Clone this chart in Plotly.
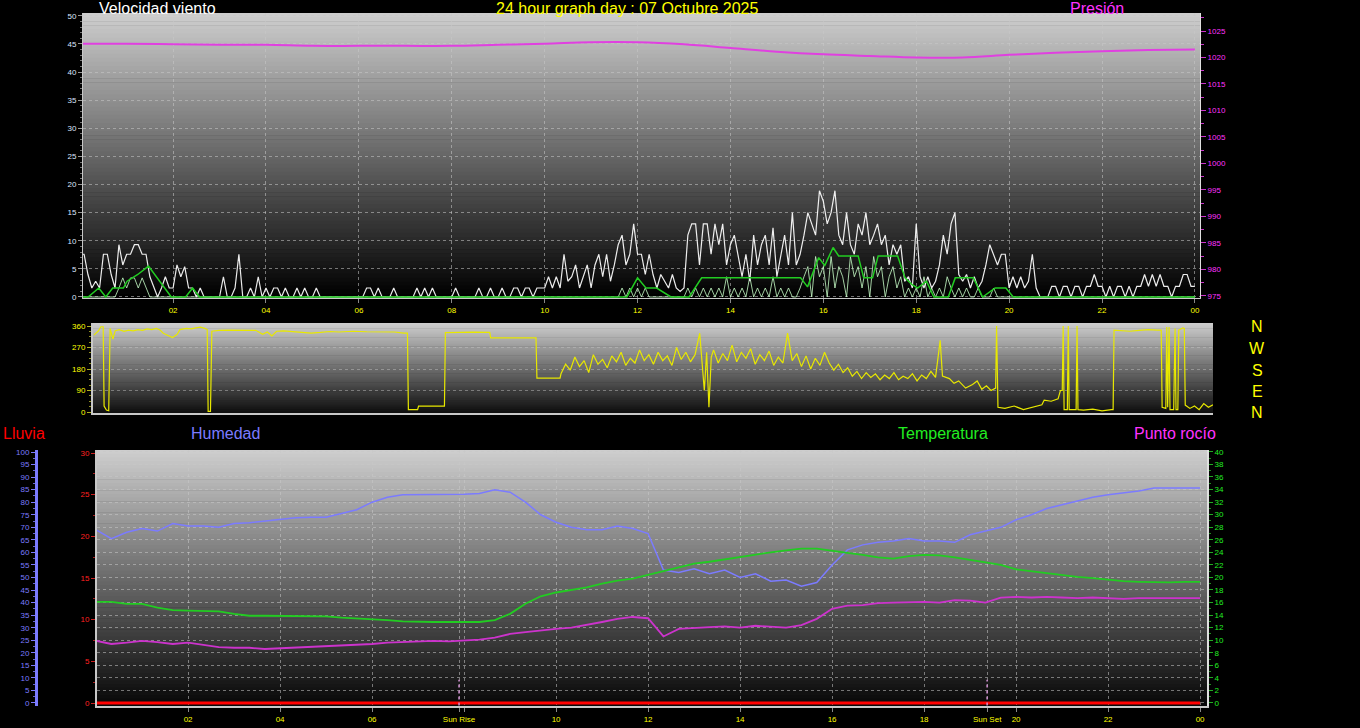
import plotly.graph_objects as go

W, H = 1360, 728

# ---------------- DATA ----------------
HOUR_TICKS = [2, 4, 6, 8, 10, 12, 14, 16, 18, 20, 22, 24]
HOUR_LABELS = ["02", "04", "06", "08", "10", "12", "14", "16", "18", "20", "22", "00"]
SUNRISE_H = 7.89
SUNSET_H = 19.37

WIND_STEP_H = 5 / 60  # 5-minute samples from 00:00
# gust (white)
WIND_GUST = [
    7.6, 7.6, 4.0, 1.6, 2.8, 1.6, 7.6, 7.6, 4.0, 1.6, 9.3, 5.7,
    7.6, 7.6, 9.3, 9.3, 7.6, 7.6, 3.6, 1.6, 0, 1.6, 3.6, 1.6,
    1.6, 5.7, 3.6, 5.4, 1.6, 1.6, 0, 1.6, 0, 0, 0, 0,
    0, 3.6, 0, 0, 1.6, 7.6, 0, 0, 1.6, 0, 3.6, 0,
    1.6, 0, 1.6, 1.6, 0, 1.6, 0, 0, 1.6, 0, 1.6, 0,
    0, 1.6, 0, 0, 0, 0, 0, 0, 0, 0, 0, 0,
    0, 0, 1.6, 1.6, 0, 1.6, 0, 0, 0, 1.6, 0, 0,
    0, 0, 0, 1.6, 0, 1.6, 0, 1.6, 0, 0, 0, 0,
    0, 1.6, 0, 0, 0, 0, 0, 1.6, 0, 0, 1.6, 0,
    0, 1.6, 0, 0, 1.6, 1.6, 0, 1.6, 1.6, 0, 1.6, 1.6,
    1.6, 3.6, 1.6, 3.6, 1.6, 7.6, 2.8, 3.6, 5.7, 1.6, 3.6, 5.7,
    1.6, 5.7, 7.6, 3.6, 7.6, 2.8, 5.7, 9.3, 11.0, 5.7, 7.6, 13.0,
    7.6, 7.6, 4.0, 7.6, 4.0, 1.6, 4.0, 2.8, 1.6, 4.0, 1.6, 1.0,
    1.6, 11.0, 13.0, 13.0, 5.7, 13.0, 13.0, 7.6, 13.0, 9.3, 13.0, 5.7,
    9.3, 11.0, 7.6, 3.6, 7.6, 2.8, 11.0, 5.7, 9.3, 11.0, 5.7, 12.3,
    3.6, 7.6, 11.0, 5.7, 15.0, 5.7, 7.6, 11.0, 15.0, 13.0, 11.0, 18.9,
    17.0, 13.0, 15.0, 18.9, 11.0, 9.3, 15.0, 9.3, 7.6, 13.0, 11.0, 15.0,
    9.3, 11.0, 13.0, 9.3, 11.0, 5.7, 9.3, 7.6, 9.3, 2.8, 3.6, 1.6,
    13.0, 3.6, 1.6, 3.6, 1.6, 2.8, 5.7, 11.0, 7.6, 13.0, 15.0, 4.0,
    2.8, 4.0, 1.6, 3.6, 1.6, 2.8, 5.7, 9.3, 7.6, 5.7, 7.6, 7.6,
    1.6, 3.6, 1.6, 3.6, 1.6, 2.8, 7.6, 1.6, 0, 0, 0, 1.9,
    1.9, 0, 1.9, 1.9, 0, 1.9, 1.9, 0, 1.9, 1.9, 4.0, 1.9,
    1.9, 0, 1.9, 0, 1.9, 1.9, 0, 1.9, 0, 1.9, 1.9, 4.0,
    1.9, 4.0, 1.9, 4.0, 1.9, 1.9, 0, 1.9, 1.9, 4.0, 4.0, 1.9,
    1.9,
]
# wind speed (pale green)
WIND_SPD = [
    0, 0, 0, 0, 0, 0, 0, 0, 0, 0, 1.6, 3.4,
    1.6, 3.4, 3.4, 1.6, 3.4, 1.6, 0, 0, 0, 0, 0, 0,
    0, 0, 0, 0, 0, 0, 0, 0, 0, 0, 0, 0,
    0, 0, 0, 0, 0, 0, 0, 0, 0, 0, 0, 0,
    0, 0, 0, 0, 0, 0, 0, 0, 0, 0, 0, 0,
    0, 0, 0, 0, 0, 0, 0, 0, 0, 0, 0, 0,
    0, 0, 0, 0, 0, 0, 0, 0, 0, 0, 0, 0,
    0, 0, 0, 0, 0, 0, 0, 0, 0, 0, 0, 0,
    0, 0, 0, 0, 0, 0, 0, 0, 0, 0, 0, 0,
    0, 0, 0, 0, 0, 0, 0, 0, 0, 0, 0, 0,
    0, 0, 0, 0, 0, 0, 0, 0, 0, 0, 0, 0,
    0, 0, 0, 0, 0, 0, 0, 0, 1.6, 0, 1.6, 0,
    1.6, 0, 1.6, 0, 0, 0, 0, 0, 0, 0, 0, 0,
    0, 1.6, 0, 1.6, 0, 1.6, 0, 1.6, 0, 1.6, 0, 3.6,
    0, 1.6, 0, 1.6, 0, 3.6, 0, 1.6, 0, 1.6, 0, 3.6,
    0, 1.6, 0, 1.6, 0, 0, 1.6, 3.6, 5.4, 0, 7.2, 3.6,
    5.4, 0, 7.2, 1.6, 5.4, 3.6, 0, 7.2, 3.6, 5.4, 1.6, 5.4,
    0, 7.2, 3.6, 5.4, 0, 3.6, 5.4, 1.6, 3.6, 0, 1.6, 0,
    1.6, 0, 3.6, 0, 1.6, 0, 1.6, 0, 3.6, 1.6, 0, 1.6,
    0, 1.6, 0, 0, 1.6, 0, 0, 0, 1.6, 0, 0, 0,
    0, 0, 0, 0, 0, 0, 0, 0, 0, 0, 0, 0,
    0, 0, 0, 0, 0, 0, 0, 0, 0, 0, 0, 0,
    0, 0, 0, 0, 0, 0, 0, 0, 0, 0, 0, 0,
    0, 0, 0, 0, 0, 0, 0, 0, 0, 0, 0, 0,
    0,
]
# average wind (green)
AVG_T = [0, 0.17, 0.4, 0.55, 0.7, 0.93, 1.01, 1.24, 1.47, 1.77, 1.96, 2.27, 2.42, 2.57,
         11.77, 12.0, 12.18, 12.41, 12.72, 13.11, 13.38, 15.51, 15.66, 15.9, 16.03, 16.21,
         16.33, 16.75, 16.87, 17.06, 17.18, 17.6, 17.76, 17.91, 18.03, 18.22, 18.38, 18.69,
         18.84, 19.23, 19.43, 19.7, 19.93, 20.09, 24.0]
AVG_V = [0, 0, 1.6, 0, 1.6, 1.6, 2.8, 4.0, 5.5, 2.2, 0, 0, 1.6, 0,
         0, 3.4, 1.6, 1.6, 0, 0, 3.4, 3.4, 1.8, 7.0, 5.6, 8.8,
         7.3, 7.3, 3.4, 3.4, 7.3, 7.3, 3.4, 2.2, 1.6, 2.8, 0, 0,
         3.4, 3.4, 0, 1.6, 1.6, 0, 0]
# pressure (hPa), hourly
PRES_T = [0, 1, 2, 3, 4, 5, 6, 7, 8, 9, 10, 11, 12, 13, 14, 15, 16, 17, 18, 19, 20, 21, 22, 23, 24]
PRES_V = [1022.6, 1022.6, 1022.5, 1022.4, 1022.4, 1022.2, 1022.2, 1022.2, 1022.2, 1022.4,
          1022.6, 1022.9, 1022.9, 1022.5, 1021.8, 1021.1, 1020.6, 1020.3, 1020.0, 1020.0,
          1020.5, 1020.9, 1021.2, 1021.4, 1021.5]

# wind direction (degrees)
DIR_T = [-0.1, 0.0, 0.05, 0.1, 0.12, 0.17, 0.22, 0.25, 0.31, 0.36, 0.45, 0.55, 0.65, 0.75, 0.85,
         0.95, 1.05, 1.15, 1.25, 1.33, 1.4, 1.5, 1.6, 1.7, 1.76, 1.9, 2.0, 2.1, 2.2, 2.3, 2.35,
         2.37, 2.42, 2.45, 2.6, 2.8, 3.0, 3.2, 3.4, 3.55, 3.65, 3.75, 3.85, 4.0, 4.2, 4.36, 4.6,
         4.8, 5.0, 5.2, 5.5, 5.8, 6.1, 6.4, 6.6, 6.68, 6.7, 6.9, 6.92, 7.2, 7.48, 7.5, 7.8, 8.1,
         8.46, 8.48, 9.0, 9.46, 9.48, 9.98,
         10.0, 10.1, 10.2, 10.3, 10.4, 10.5, 10.6, 10.7, 10.8, 10.9, 11.0, 11.1, 11.2, 11.3,
         11.4, 11.5, 11.6, 11.7, 11.8, 11.9, 12.0, 12.1, 12.2, 12.3, 12.4, 12.5, 12.6, 12.7,
         12.8, 12.9, 13.0, 13.05, 13.1, 13.15, 13.2, 13.25, 13.3, 13.4, 13.5, 13.6, 13.7, 13.8,
         13.9, 14.0, 14.1, 14.2, 14.3, 14.4, 14.5, 14.6, 14.7, 14.8, 14.9, 15.0, 15.1, 15.2,
         15.3, 15.4, 15.5, 15.6, 15.7, 15.8, 15.9, 16.0, 16.1, 16.2, 16.3, 16.4, 16.5, 16.6,
         16.7, 16.8, 16.9, 17.0, 17.1, 17.2, 17.3, 17.4, 17.5, 17.6, 17.7, 17.8, 17.9, 18.0,
         18.1, 18.2, 18.25, 18.4, 18.5, 18.6, 18.75, 18.9, 19.0, 19.1, 19.2, 19.3, 19.4, 19.42,
         19.45, 19.6, 19.8, 20.0, 20.2, 20.4, 20.45, 20.6, 20.75, 20.8, 20.84, 20.86, 20.88,
         20.95, 20.97, 20.99, 21.14, 21.16, 21.18, 21.3, 21.5, 21.7, 21.9, 21.94, 21.96, 22.1,
         22.3, 22.5, 22.7, 22.9, 22.98, 23.0, 23.08, 23.1, 23.12, 23.15, 23.17, 23.25, 23.28,
         23.3, 23.34, 23.36, 23.45, 23.48, 23.5, 23.6, 23.7, 23.8, 23.9, 24.0, 24.1]
DIR_V = [322, 340, 357, 357, 25, 8, 5, 350, 305, 340, 345, 338, 343, 340, 345,
         342, 348, 345, 350, 343, 330, 320, 312, 325, 345, 350, 348, 352, 355, 350, 345,
         3, 3, 338, 342, 343, 343, 344, 342, 325, 335, 318, 338, 340, 337, 333, 330,
         333, 337, 335, 338, 336, 337, 335, 330, 330, 10, 10, 25, 25, 25, 332, 334, 334,
         333, 310, 310, 310, 142, 142,
         160, 200, 175, 230, 190, 215, 165, 240, 200, 220, 185, 235, 210, 250,
         195, 225, 205, 260, 215, 240, 200, 250, 215, 235, 195, 270, 220, 250,
         210, 240, 330, 200, 90, 250, 20, 230, 260, 205, 245, 215, 280, 210,
         250, 225, 265, 200, 240, 215, 255, 195, 230, 205, 330, 215, 245, 190,
         235, 180, 225, 195, 250, 205, 175, 200, 165, 185, 150, 170, 140, 165,
         145, 160, 135, 155, 140, 165, 135, 150, 140, 160, 130, 155, 140, 170,
         145, 300, 150, 140, 120, 130, 100, 115, 130, 95, 110, 90, 100, 360,
         20, 15, 25, 10, 20, 30, 50, 45, 55, 90, 90, 360, 10,
         10, 360, 10, 10, 360, 10, 8, 12, 5, 10, 10, 343, 340,
         338, 342, 345, 343, 343, 20, 15, 356, 20, 356, 10, 10, 350,
         10, 10, 343, 352, 350, 29, 15, 25, 10, 35, 20, 30]

# bottom panel: 20-minute samples from 00:00
BOT_STEP_H = 20 / 60
HUMIDITY = [69, 65.5, 68, 69.5, 68.5, 71.5, 70.5, 70.5, 70, 71.5, 71.8, 72.5, 73, 73.8, 74, 74,
            75.5, 77, 80, 82, 83, 83, 83, 83, 83.2, 83.5, 85, 84, 80, 75, 72, 70, 69, 69, 70.5,
            69.5, 67.5, 53, 52, 53.5, 51.5, 53, 50, 51.5, 48.5, 49, 46.5, 48, 55, 61, 63, 64,
            64.5, 65.5, 64.5, 64.5, 64, 67, 68.5, 70, 73, 75, 77.5, 79, 80.5, 82, 83, 83.7, 84.5,
            85.7, 85.7, 85.7, 85.7]
TEMPERATURE = [16.1, 16.1, 15.8, 15.8, 15.2, 14.8, 14.7, 14.7, 14.6, 14.2, 13.9, 13.9, 13.9, 13.9,
               13.9, 13.8, 13.6, 13.5, 13.3, 13.2, 13.0, 12.9, 12.9, 12.9, 12.9, 12.9, 13.2, 14.2,
               15.8, 17.0, 17.6, 18.0, 18.4, 19.0, 19.5, 19.8, 20.4, 21.0, 21.6, 22.2, 22.5, 22.9,
               23.3, 23.6, 24.0, 24.3, 24.6, 24.6, 24.2, 23.9, 23.6, 23.2, 23.0, 23.4, 23.6, 23.5,
               23.2, 22.8, 22.4, 22.0, 21.3, 21.0, 20.6, 20.3, 20.1, 19.9, 19.6, 19.4, 19.3, 19.2,
               19.2, 19.3, 19.3]
DEWPOINT = [9.9, 9.4, 9.6, 9.9, 9.7, 9.4, 9.6, 9.3, 8.9, 8.8, 8.8, 8.6, 8.7, 8.9, 8.9, 9.1, 9.2,
            9.2, 9.4, 9.6, 9.7, 9.9, 9.9, 9.8, 9.9, 10.1, 10.4, 11.0, 11.3, 11.6, 11.8, 12.0, 12.4,
            12.9, 13.4, 13.7, 13.5, 10.6, 11.8, 12.0, 12.1, 12.2, 12.0, 12.3, 12.1, 12.0, 12.4,
            13.4, 15.0, 15.5, 15.6, 15.9, 16.0, 16.1, 16.1, 16.0, 16.4, 16.3, 16.0, 16.8, 16.9,
            16.8, 16.9, 16.8, 16.7, 16.8, 16.7, 16.6, 16.7, 16.7, 16.6, 16.7, 16.7]
RAIN = [0, 0, 0, 0, 0, 0, 0, 0, 0, 0, 0, 0, 0, 0, 0, 0, 0, 0, 0, 0, 0, 0, 0, 0, 0,
        0, 0, 0, 0, 0, 0, 0, 0, 0, 0, 0, 0, 0, 0, 0, 0, 0, 0, 0, 0, 0, 0, 0, 0, 0,
        0, 0, 0, 0, 0, 0, 0, 0, 0, 0, 0, 0, 0, 0, 0, 0, 0, 0, 0, 0, 0, 0, 0]

# ---------------- FIGURE ----------------
FONT = "Liberation Sans, Arial, sans-serif"


def px(x):
    return x / W


def py(y):
    return 1 - y / H


t_wind = [i * WIND_STEP_H for i in range(len(WIND_GUST))]
t_bot = [i * BOT_STEP_H for i in range(len(HUMIDITY))]

fig = go.Figure()

fig.add_trace(go.Scatter(x=t_wind, y=WIND_SPD, xaxis="x", yaxis="y", mode="lines",
                         line=dict(color="rgba(200,255,200,0.8)", width=1)))
fig.add_trace(go.Scatter(x=t_wind, y=WIND_GUST, xaxis="x", yaxis="y", mode="lines",
                         line=dict(color="rgba(255,255,255,0.92)", width=1.2)))
fig.add_trace(go.Scatter(x=AVG_T, y=AVG_V, xaxis="x", yaxis="y", mode="lines",
                         line=dict(color="#22cc22", width=1.5)))
fig.add_trace(go.Scatter(x=PRES_T, y=PRES_V, xaxis="x", yaxis="y2", mode="lines",
                         line=dict(color="#e040e0", width=2, shape="spline")))

fig.add_trace(go.Scatter(x=DIR_T, y=DIR_V, xaxis="x2", yaxis="y3", mode="lines",
                         line=dict(color="#e8e800", width=1.2)))

fig.add_trace(go.Scatter(x=t_bot, y=RAIN, xaxis="x3", yaxis="y4", mode="lines",
                         line=dict(color="#ff0000", width=3)))
fig.add_trace(go.Scatter(x=t_bot, y=HUMIDITY, xaxis="x3", yaxis="y5", mode="lines",
                         line=dict(color="#7b7bff", width=1.5)))
fig.add_trace(go.Scatter(x=t_bot, y=TEMPERATURE, xaxis="x3", yaxis="y6", mode="lines",
                         line=dict(color="#22cc22", width=1.8)))
fig.add_trace(go.Scatter(x=t_bot, y=DEWPOINT, xaxis="x3", yaxis="y6", mode="lines",
                         line=dict(color="#cc33cc", width=1.8)))

# gradient backgrounds
shapes = []


def gradient(x0, x1, y0, y1, top, bottom, n=70):
    step = (y1 - y0) / n
    for i in range(n):
        t = i / (n - 1)
        v = int(round(top + (bottom - top) * t))
        ya = y0 + i * step
        yb = ya + step + 0.6
        shapes.append(dict(type="rect", xref="paper", yref="paper", layer="below",
                           x0=px(x0), x1=px(x1), y0=py(min(yb, y1)), y1=py(ya),
                           fillcolor=f"rgb({v},{v},{v})", line=dict(width=0)))


gradient(83, 1200, 13, 298, 205, 0)
gradient(93, 1213, 323, 413, 205, 15)
gradient(97, 1207, 450, 706, 205, 8)

for h in (SUNRISE_H, SUNSET_H):
    shapes.append(dict(type="line", xref="x3", yref="y6", x0=h, x1=h, y0=-0.4, y1=3.7,
                       line=dict(color="#d090d0", width=1.5, dash="dot")))

GRID = "rgba(200,200,200,0.55)"
tickf = dict(family=FONT, size=8)

bot_ticks = [2, 4, 6, SUNRISE_H, 8, 10, 12, 14, 16, 18, SUNSET_H, 20, 22, 24]
bot_labels = ["02", "04", "06", "Sun Rise", "", "10", "12", "14", "16", "18", "Sun Set", "20", "22", "00"]

fig.update_layout(
    width=W, height=H, template="none",
    margin=dict(l=0, r=0, t=0, b=0),
    paper_bgcolor="black", plot_bgcolor="black",
    showlegend=False, shapes=shapes,
    xaxis=dict(domain=[px(83), px(1200)], range=[0.06, 24.11], anchor="y",
               tickvals=HOUR_TICKS, ticktext=HOUR_LABELS,
               tickfont=dict(tickf, color="#ffff00"), ticks="outside", ticklen=4,
               tickcolor="#888888", showgrid=True, gridcolor=GRID, griddash="dot",
               showline=True, linecolor="#c8c8c8", zeroline=False, automargin=False),
    yaxis=dict(domain=[py(298), py(13)], range=[-0.18, 50.5], anchor="x",
               tickvals=[0, 5, 10, 15, 20, 25, 30, 35, 40, 45, 50],
               tickfont=dict(tickf, color="#dde6ff"), ticks="outside", ticklen=4,
               tickcolor="#999999",
               minor=dict(dtick=1, ticks="outside", ticklen=2, tickcolor="#777777"),
               showgrid=True, gridcolor=GRID, griddash="dot",
               showline=True, linecolor="#c8c8c8", zeroline=False, automargin=False),
    yaxis2=dict(overlaying="y", side="right", anchor="x", range=[974.6, 1028.4],
                tickvals=[975, 980, 985, 990, 995, 1000, 1005, 1010, 1015, 1020, 1025],
                tickfont=dict(tickf, color="#ff33ff"), ticks="outside", ticklen=5,
                tickcolor="#cc33cc",
                minor=dict(dtick=2.5, ticks="outside", ticklen=3, tickcolor="#cc33cc"),
                showgrid=False, showline=True, linecolor="#e0e0e0", zeroline=False,
                automargin=False),
    xaxis2=dict(domain=[px(93), px(1213)], range=[-0.12, 24.1], anchor="y3",
                showticklabels=False, showgrid=False, ticks="",
                showline=True, linecolor="#c8c8c8", linewidth=2, zeroline=False,
                automargin=False),
    yaxis3=dict(domain=[py(413), py(323)], range=[-4.2, 372.6], anchor="x2",
                tickvals=[0, 90, 180, 270, 360],
                tickfont=dict(tickf, color="#ffff00"), ticks="outside", ticklen=4,
                tickcolor="#b0b020",
                minor=dict(dtick=22.5, ticks="outside", ticklen=2, tickcolor="#909020"),
                showgrid=True, gridcolor="rgba(200,200,200,0.45)", griddash="dot",
                showline=True, linecolor="#c8c8c8", linewidth=2, zeroline=False,
                automargin=False),
    xaxis3=dict(domain=[px(97), px(1207)], range=[0.02, 24.15], anchor="y4",
                tickvals=bot_ticks, ticktext=bot_labels,
                tickfont=dict(tickf, color="#ffff00"), ticks="outside", ticklen=4,
                tickcolor="#888888", showgrid=True, gridcolor=GRID, griddash="dot",
                showline=True, linecolor="#c8c8c8", linewidth=2, zeroline=False,
                automargin=False),
    yaxis4=dict(domain=[py(706), py(450)], range=[-0.36, 30.36], anchor="x3",
                tickvals=[0, 5, 10, 15, 20, 25, 30],
                tickfont=dict(tickf, color="#ff2020"), ticks="outside", ticklen=4,
                tickcolor="#cc2020",
                minor=dict(dtick=2.5, ticks="outside", ticklen=2, tickcolor="#aa2020"),
                showgrid=False, showline=True, linecolor="#c8c8c8", linewidth=2,
                zeroline=False, automargin=False),
    yaxis5=dict(overlaying="y4", anchor="free", position=px(36), side="left",
                range=[-1.2, 100.8], tickvals=list(range(0, 101, 5)),
                tickfont=dict(tickf, color="#7b7bff"), ticks="outside", ticklen=4,
                tickcolor="#7b7bff",
                minor=dict(dtick=2.5, ticks="outside", ticklen=2, tickcolor="#6666cc"),
                showgrid=False, showline=True, linecolor="#7b7bff", linewidth=3,
                zeroline=False, automargin=False),
    yaxis6=dict(overlaying="y4", anchor="x3", side="right", range=[-0.48, 40.3],
                tickvals=list(range(0, 41, 2)),
                tickfont=dict(tickf, color="#22ee22"), ticks="outside", ticklen=4,
                tickcolor="#22aa22",
                minor=dict(dtick=1, ticks="outside", ticklen=2, tickcolor="#228822"),
                showgrid=True, gridcolor=GRID, griddash="dot",
                showline=True, linecolor="#e0e0e0", linewidth=2, zeroline=False,
                automargin=False),
)

ann = []


def label(text, x, y, color, size=16, anchor="left"):
    ann.append(dict(text=text, x=px(x), y=py(y), xref="paper", yref="paper",
                    xanchor=anchor, yanchor="middle", showarrow=False,
                    font=dict(family=FONT, size=size, color=color)))


label("Velocidad viento", 97, 9, "#ffffff")
label("24 hour graph day : 07 Octubre 2025", 494, 9, "#ffff00")
label("Presión", 1068, 9, "#ff33ff")
label("Lluvia", 1, 433, "#ff0000")
label("Humedad", 189, 433, "#7b7bff")
label("Temperatura", 896, 433, "#22ee22")
label("Punto rocío", 1132, 433, "#ff33ff")
for letter, yy in zip(["N", "W", "S", "E", "N"], [326, 348, 370, 391, 412]):
    label(letter, 1257, yy, "#ffff00", 16, anchor="center")

fig.update_layout(annotations=ann)

fig.write_html(
    "out.html",
    config={"displayModeBar": False},
    post_script=("document.body.style.margin='0';document.body.style.padding='0';"
                 "document.body.style.background='black';"
                 "document.documentElement.style.overflow='hidden';"),
)
